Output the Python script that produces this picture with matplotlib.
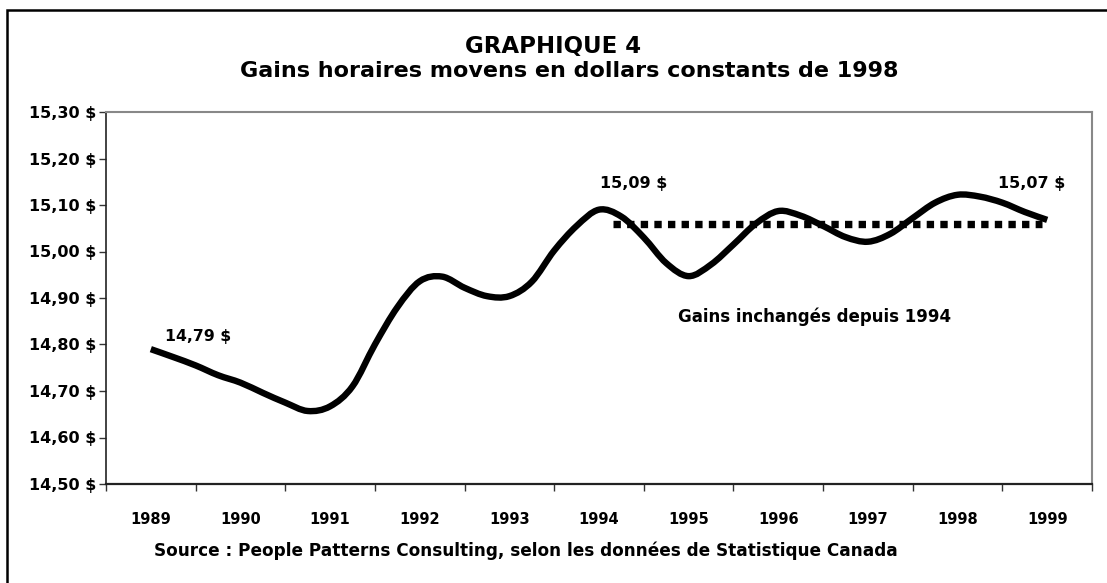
import matplotlib
matplotlib.use("Agg")
import matplotlib.pyplot as plt
from matplotlib.patches import Rectangle, PathPatch
from matplotlib.path import Path
from matplotlib.ticker import FixedLocator, NullFormatter

plt.rcParams['font.family'] = ['DejaVu Sans']
plt.rcParams['font.weight'] = 'bold'

# ---- data ----
years = ['1989', '1990', '1991', '1992', '1993', '1994', '1995', '1996', '1997', '1998', '1999']
# quarterly readings, starting at 1989 and ending at 1999 (position in years from 1989)
quarter_pos = [k / 4 for k in range(41)]
earnings = [14.790, 14.773, 14.755, 14.734, 14.718, 14.696, 14.675, 14.657, 14.667, 14.710,
            14.800, 14.880, 14.936, 14.946, 14.922, 14.904, 14.904, 14.935, 15.002, 15.055,
            15.090, 15.075, 15.030, 14.975, 14.947, 14.972, 15.015, 15.060, 15.087, 15.077,
            15.055, 15.031, 15.021, 15.038, 15.072, 15.105, 15.122, 15.118, 15.105, 15.085,
            15.068]
flat_x = [5.16, 9.94]
flat_y = [15.06, 15.06]
yticks = [14.50, 14.60, 14.70, 14.80, 14.90, 15.00, 15.10, 15.20, 15.30]
ytick_labels = ['14,50 $', '14,60 $', '14,70 $', '14,80 $', '14,90 $', '15,00 $', '15,10 $', '15,20 $', '15,30 $']

W, H = 1107, 583
fig = plt.figure(figsize=(W / 100, H / 100), dpi=100)
fig.patch.set_facecolor('white')

# outer frame
fig.patches.append(Rectangle((7 / W, -0.1), 1.2, (H - 10) / H + 0.1, transform=fig.transFigure,
                             fill=False, edgecolor='black', linewidth=1.8))

ax = fig.add_axes([106 / W, (H - 484) / H, 986 / W, 372 / H])
ax.set_facecolor('white')


def smooth_path(xs, ys, t=1 / 6):
    """Bezier (Catmull-Rom style) path through the data points, like a spreadsheet smoothed line."""
    verts = [(xs[0], ys[0])]
    codes = [Path.MOVETO]
    n = len(xs)
    for i in range(n - 1):
        x0, y0 = (xs[i - 1], ys[i - 1]) if i > 0 else (xs[i], ys[i])
        x1, y1 = xs[i], ys[i]
        x2, y2 = xs[i + 1], ys[i + 1]
        x3, y3 = (xs[i + 2], ys[i + 2]) if i + 2 < n else (xs[i + 1], ys[i + 1])
        c1 = (x1 + (x2 - x0) * t, y1 + (y2 - y0) * t)
        c2 = (x2 - (x3 - x1) * t, y2 - (y3 - y1) * t)
        verts += [c1, c2, (x2, y2)]
        codes += [Path.CURVE4] * 3
    return Path(verts, codes)


ax.add_patch(PathPatch(smooth_path(quarter_pos, earnings), facecolor='none', edgecolor='black',
                       linewidth=4.6, capstyle='butt', joinstyle='round'))
ax.plot(flat_x, flat_y, color='black', linewidth=5.3, dashes=(1.0, 0.85), dash_capstyle='butt')

ax.set_xlim(-0.5, 10.5)
ax.set_ylim(14.50, 15.30)

ax.xaxis.set_major_locator(FixedLocator([i - 0.5 for i in range(12)]))
ax.xaxis.set_major_formatter(NullFormatter())
ax.xaxis.set_minor_locator(FixedLocator(list(range(11))))
ax.set_xticklabels(years, minor=True)
ax.tick_params(axis='x', which='major', direction='out', length=5, width=1, color='#333333')
ax.tick_params(axis='x', which='minor', length=0, pad=20, labelsize=10.5)

ax.set_yticks(yticks)
ax.set_yticklabels(ytick_labels)
ax.tick_params(axis='y', direction='out', length=5, width=1, color='#333333', labelsize=11.5, pad=2)

for lab in ax.get_xticklabels(minor=True) + ax.get_yticklabels():
    lab.set_fontweight('bold')

ax.spines['left'].set_color('#222222')
ax.spines['bottom'].set_color('#222222')
ax.spines['left'].set_linewidth(1.2)
ax.spines['bottom'].set_linewidth(1.6)
ax.spines['top'].set_color('#888888')
ax.spines['right'].set_color('#888888')
ax.spines['top'].set_linewidth(1.5)
ax.spines['right'].set_linewidth(1.5)

# annotations
ax.text(0.16, 14.818, '14,79 $', fontsize=11.3, fontweight='bold', va='center', ha='left')
ax.text(5.01, 15.147, '15,09 $', fontsize=11.5, fontweight='bold', va='center', ha='left')
ax.text(9.455, 15.147, '15,07 $', fontsize=11.5, fontweight='bold', va='center', ha='left')
ax.text(7.41, 14.859, 'Gains inchangés depuis 1994', fontsize=12, fontweight='bold',
        va='center', ha='center')

# titles
fig.text(553 / W, 1 - 46 / H, 'GRAPHIQUE 4', fontsize=16.5, fontweight='bold', ha='center', va='center')
fig.text(569 / W, 1 - 71 / H, 'Gains horaires movens en dollars constants de 1998', fontsize=16,
         fontweight='bold', ha='center', va='center')
fig.text(526 / W, 1 - 551 / H,
         'Source : People Patterns Consulting, selon les données de Statistique Canada',
         fontsize=12.2, fontweight='bold', ha='center', va='center')

fig.savefig('out.png', dpi=100, facecolor='white')
